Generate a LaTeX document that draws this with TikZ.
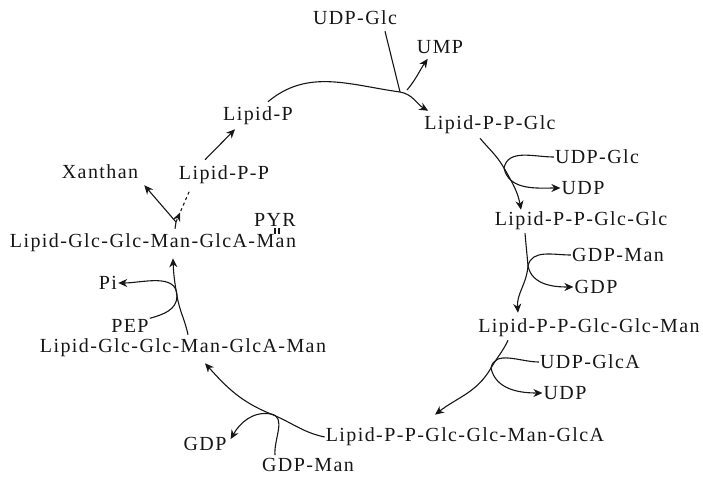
\documentclass[tikz,border=0pt]{standalone}
\usepackage{fontspec}
\setmainfont[LetterSpace=7]{Liberation Serif}
\usetikzlibrary{arrows.meta, decorations.markings}
\definecolor{Ink}{HTML}{161616}
\NewDocumentCommand{\CoLoop}{m m m}{
    \draw[rxn] (#1.west) to[out=180, in=78] (#2) to[out=-78, in=180] (#3.west);
}
\newcommand{\Canvas}{
\useasboundingbox (0,0) rectangle (703,-483);
\coordinate (branch-1) at (400,-92);
\coordinate (branch-2) at (504,-168);
\coordinate (branch-3) at (528,-266);
\coordinate (branch-4) at (491,-368);
\coordinate (branch-5) at (271,-414);
\coordinate (branch-6) at (177,-296);
\coordinate (fork) at (176,-222);
}

\begin{document}
\begin{tikzpicture}[x=1pt, y=1pt,
    every node/.style={font=\fontsize{20}{22}\selectfont, text=Ink, inner sep=1pt},
    side/.style={Ink, line width=1.1pt},
    rxn/.style={side, -{Stealth[length=9pt, width=8pt]}},
    midarrow/.style={side, postaction={decorate}, decoration={markings,
        mark=at position 0.3 with {\arrow{Stealth[length=9pt, width=8pt]}}}}]
\Canvas
% metabolites of the cycle
\node (lp)          at (258,-116) {Lipid-P};
\node (lpp-glc)     at (490,-125) {Lipid-P-P-Glc};
\node (lpp-glc2)    at (581,-221) {Lipid-P-P-Glc-Glc};
\node (lpp-man)     at (589,-328) {Lipid-P-P-Glc-Glc-Man};
\node (lpp-glca)    at (465,-437) {Lipid-P-P-Glc-Glc-Man-GlcA};
\node (lg-man)      at (183,-348) {Lipid-Glc-Glc-Man-GlcA-Man};
\node (lg-pyr)      at (153,-243) {Lipid-Glc-Glc-Man-GlcA-Man};
\node (lpp)         at (224,-175) {Lipid-P-P};
\node (xanthan)     at (100,-172) {Xanthan};
% donors and products
\node (udpglc-1)    at (355,-18)  {UDP-Glc};
\node (ump)         at (440,-47)  {UMP};
\node (udpglc-2)    at (597,-157) {UDP-Glc};
\node (udp-2)       at (583,-188) {UDP};
\node (gdpman-3)    at (618,-255) {GDP-Man};
\node (gdp-3)       at (596,-287) {GDP};
\node (udpglca-4)   at (590,-362) {UDP-GlcA};
\node (udp-4)       at (565,-393) {UDP};
\node (gdp-5)       at (205,-444) {GDP};
\node (gdpman-5)    at (308,-465) {GDP-Man};
\node (pep)         at (130,-326) {PEP};
\node (pi)          at (108,-283) {Pi};
\node (pyr)         at (275,-220) {PYR};

% step 1
\draw[rxn] ([xshift=10pt,yshift=4pt]lp.north) to[out=40, in=172] (branch-1)
    to[out=-10, in=150] ([xshift=5pt,yshift=4pt]lpp-glc.north west);
\draw[side] ([xshift=30pt,yshift=-5pt]udpglc-1.south) -- (branch-1);
\draw[rxn] ([xshift=7pt,yshift=2pt]branch-1) to[out=50, in=-125] ([xshift=12pt,yshift=-4pt]ump.south west);

% steps 2 to 4
\draw[rxn] ([xshift=-10pt,yshift=-3pt]lpp-glc.south) to[out=-50, in=120] (branch-2)
    to[out=-60, in=100] ([xshift=-60pt,yshift=1pt]lpp-glc2.north);
\CoLoop{udpglc-2}{branch-2}{udp-2}
\draw[rxn] ([xshift=-56pt,yshift=-2pt]lpp-glc2.south) to[out=-85, in=95] (branch-3)
    to[out=-95, in=95] ([xshift=-71pt,yshift=5pt]lpp-man.north);
\CoLoop{gdpman-3}{branch-3}{gdp-3}
\draw[rxn] ([xshift=-81pt,yshift=-2pt]lpp-man.south) to[out=-115, in=60] (branch-4)
    to[out=-120, in=38] ([xshift=-30pt,yshift=12pt]lpp-glca.north);
\CoLoop{udpglca-4}{branch-4}{udp-4}

% step 5
\draw[rxn] (lpp-glca.west) to[out=168, in=-22] (branch-5)
    to[out=158, in=-48] ([xshift=22pt,yshift=-5pt]lg-man.south);
\draw[rxn] ([xshift=-33pt,yshift=2pt]gdpman-5.north) to[out=95, in=-10] (branch-5)
    to[out=170, in=60] ([xshift=3pt,yshift=-3pt]gdp-5.north east);

% step 6
\draw[rxn] ([xshift=5pt,yshift=3pt]lg-man.north) to[out=102, in=-80] (branch-6)
    to[out=100, in=-88] ([xshift=20pt,yshift=-5pt]lg-pyr.south);
\draw[rxn] (pep.north east) to[out=15, in=-90] (branch-6) to[out=90, in=0] (pi.east);
\draw[side] ([xshift=0pt]pyr.south) -- ++(0,-6);
\draw[side] ([xshift=4pt]pyr.south) -- ++(0,-6);

% release and recycling
\draw[side] ([xshift=22pt,yshift=4pt]lg-pyr.north) -- (fork);
\draw[rxn] (fork) -- ([xshift=5pt,yshift=-5pt]xanthan.south east);
\draw[midarrow, dashed] (fork) -- ([xshift=12pt,yshift=-5pt]lpp.south west);
\draw[rxn] ([xshift=-19pt,yshift=5pt]lpp.north) -- ([xshift=13pt,yshift=-3pt]lp.south west);
\end{tikzpicture}
\end{document}
